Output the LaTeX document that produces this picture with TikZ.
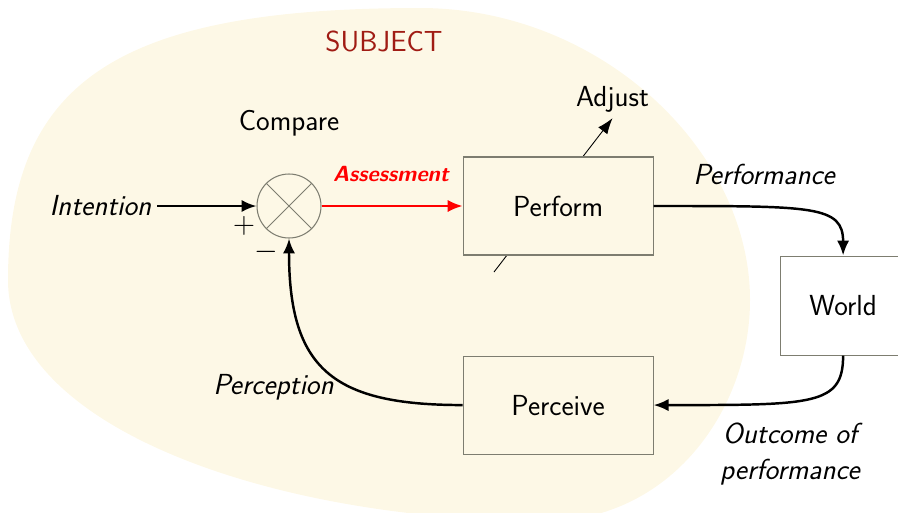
\documentclass[tikz,border=0pt]{standalone}
\usepackage{fontspec}
\usepackage{tikz}
\usetikzlibrary{positioning,arrows.meta,calc}

\definecolor{cream}{RGB}{253,248,230}
\definecolor{subjred}{RGB}{160,28,20}
\definecolor{edgegray}{RGB}{125,125,112}

\begin{document}
\begin{tikzpicture}[
  font=\sffamily\fontsize{16.5}{20}\selectfont,
  box/.style={draw=edgegray, fill=cream, line width=0.6pt,
              minimum width=3.8cm, minimum height=1.96cm},
  arr/.style={-{Latex[length=8.5pt,width=7pt]}, line width=1.4pt},
  lbl/.style={font=\sffamily\itshape\fontsize{16.5}{20}\selectfont, align=center}
]
\useasboundingbox (0,0) rectangle (17.96,-10.24);

% subject area
\begin{scope}
\clip (0,0) rectangle (17.96,-10.24);
\fill[cream] (8.4,-0.16) .. controls (12.0,-0.16) and (15.0,-3.0) .. (15.0,-6.0)
             .. controls (15.0,-8.2) and (13.4,-10.42) .. (10.9,-10.42)
             .. controls (5.6,-10.42) and (0.16,-8.6) .. (0.16,-5.6)
             .. controls (0.16,-1.6) and (2.4,-0.16) .. cycle;
\end{scope}
\node[text=subjred, font=\sffamily\fontsize{16.5}{20}\selectfont] (subject) at (7.68,-0.82) {SUBJECT};

% comparator
\node[circle, draw=edgegray, line width=0.6pt, minimum size=1.28cm, inner sep=0pt] (cmp) at (5.78,-4.12) {};
\draw[edgegray, line width=0.5pt] (cmp.north west) -- (cmp.south east)
                                  (cmp.north east) -- (cmp.south west);
\node (compare) at (5.78,-2.46) {Compare};

% adjust line runs behind the perform box
\node (adjust) at (12.25,-1.98) {Adjust};
\coordinate (adjfoot) at (9.88,-5.44);
\draw[-{Latex[length=9pt,width=6.5pt]}, line width=0.5pt] (adjfoot) -- (adjust.south);

\node[box, right=2.82cm of cmp] (perform) {Perform};
\node[box, below=2cm of perform] (perceive) {Perceive};
\coordinate (mid) at ($(perform.east)!0.5!(perceive.east)$);
\node[box, fill=white, minimum width=2.52cm, minimum height=1.98cm, right=2.52cm of mid] (world) {World};

% signals
\node[lbl] (intent) at (2.01,-4.12) {Intention};
\draw[arr] (intent.east) -- (cmp.west);
\node (plus) at (4.88,-4.52) {$+$};
\node (minus) at (5.32,-5.04) {$-$};

\draw[arr, red, line width=1.2pt] (cmp.east) -- (perform.west);
\node[text=red, font=\sffamily\bfseries\itshape\fontsize{12.5}{15}\selectfont] (assess) at (7.82,-3.48) {Assessment};

\draw[arr] (perform.east) .. controls +(3.2,0) and +(0,1.0) .. (world.north);
\node[lbl] (perf) at (15.28,-3.48) {Performance};

\draw[arr] (world.south) .. controls +(0,-1.0) and +(3.2,0) .. (perceive.east);
\node[lbl] (outcome) at (15.8,-9.08) {Outcome of\\performance};

\draw[arr] (perceive.west) .. controls +(-2.6,0) and +(0,-2.6) .. (cmp.south);
\node[lbl] (percep) at (5.47,-7.74) {Perception};
\end{tikzpicture}
\end{document}
